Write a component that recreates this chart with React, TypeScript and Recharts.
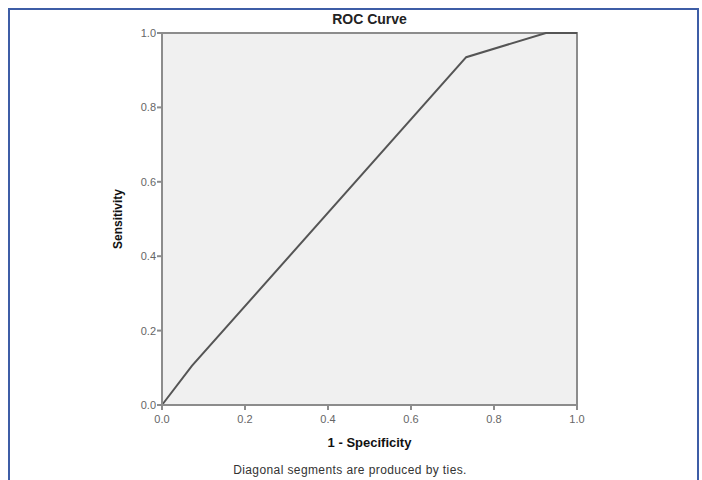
import React from "react";
import {
  LineChart,
  Line,
  XAxis,
  YAxis,
  ReferenceArea,
} from "recharts";

const fpr = [0, 0.072, 0.733, 0.925, 1];
const tpr = [0, 0.105, 0.935, 1, 1];
const ticks = [0, 0.2, 0.4, 0.6, 0.8, 1];
const title = "ROC Curve";
const xLabel = "1 - Specificity";
const yLabel = "Sensitivity";
const note = "Diagonal segments are produced by ties.";

const data = fpr.map((x, i) => ({ x, y: tpr[i] }));

const FONT = "'Liberation Sans', Arial, sans-serif";
const AXIS = "#8c8c8c";

export default function App() {
  return (
    <div
      style={{
        position: "absolute",
        left: 0,
        top: 0,
        width: 702,
        height: 480,
        overflow: "hidden",
        background: "#ffffff",
        fontFamily: FONT,
      }}
    >
      <div
        style={{
          position: "absolute",
          left: 8,
          top: 8,
          width: 687,
          height: 500,
          border: "2px solid #3d5da6",
          boxSizing: "content-box",
        }}
      />
      <div
        style={{
          position: "absolute",
          left: 162,
          width: 415,
          top: 10,
          textAlign: "center",
          fontWeight: "bold",
          fontSize: 14,
          color: "#222",
          lineHeight: "18px",
        }}
      >
        {title}
      </div>
      <div
        style={{
          position: "absolute",
          left: 150,
          width: 400,
          top: 462,
          textAlign: "center",
          fontSize: 12,
          color: "#333",
          lineHeight: "16px",
          letterSpacing: 0.4,
        }}
      >
        {note}
      </div>
      <div style={{ position: "absolute", left: 0, top: 0 }}>
        <LineChart
          width={702}
          height={480}
          data={data}
          margin={{ top: 33, right: 125, bottom: 45, left: 122 }}
        >
          <ReferenceArea
            x1={0}
            x2={1}
            y1={0}
            y2={1}
            fill="#f0f0f0"
            fillOpacity={1}
            stroke={AXIS}
            strokeWidth={2}
            ifOverflow="visible"
          />
          <XAxis
            dataKey="x"
            type="number"
            domain={[0, 1]}
            ticks={ticks}
            tickFormatter={(v: number) => v.toFixed(1)}
            height={30}
            stroke={AXIS}
            strokeWidth={2}
            tickSize={5}
            tick={{ fontSize: 11, fill: "#666", fontFamily: FONT, dy: 3 }}
            label={{
              value: xLabel,
              position: "insideBottom",
              offset: -12,
              style: { fontWeight: "bold", fontSize: 13, fill: "#111", fontFamily: FONT },
            }}
          />
          <YAxis
            dataKey="y"
            type="number"
            domain={[0, 1]}
            ticks={ticks}
            tickFormatter={(v: number) => v.toFixed(1)}
            width={40}
            stroke={AXIS}
            strokeWidth={2}
            tickSize={5}
            tickMargin={1}
            tick={{ fontSize: 11, fill: "#666", fontFamily: FONT }}
            label={{
              value: yLabel,
              angle: -90,
              position: "insideLeft",
              offset: -4,
              style: { fontWeight: "bold", fontSize: 12, fill: "#111", fontFamily: FONT, textAnchor: "middle" },
            }}
          />
          <Line
            type="linear"
            dataKey="y"
            stroke="#555555"
            strokeWidth={2}
            dot={false}
            isAnimationActive={false}
          />
        </LineChart>
      </div>
    </div>
  );
}
